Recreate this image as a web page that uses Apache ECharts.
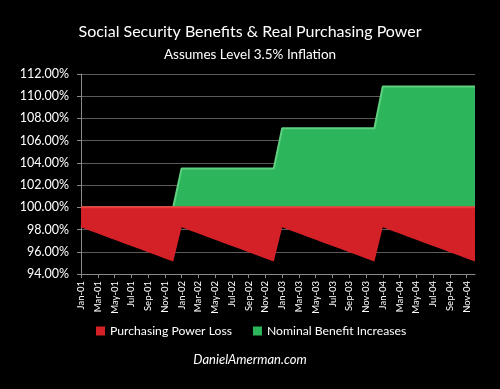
<!DOCTYPE html>
<html>
<head>
<meta charset="utf-8">
<script src="https://cdn.jsdelivr.net/npm/echarts@6/dist/echarts.min.js"></script>
<style>
html,body{margin:0;padding:0;background:#000;}
#chart{width:500px;height:389px;}
</style>
</head>
<body>
<div id="chart"></div>
<script>
var months = ['Jan-01','Feb-01','Mar-01','Apr-01','May-01','Jun-01','Jul-01','Aug-01','Sep-01','Oct-01','Nov-01','Dec-01',
  'Jan-02','Feb-02','Mar-02','Apr-02','May-02','Jun-02','Jul-02','Aug-02','Sep-02','Oct-02','Nov-02','Dec-02',
  'Jan-03','Feb-03','Mar-03','Apr-03','May-03','Jun-03','Jul-03','Aug-03','Sep-03','Oct-03','Nov-03','Dec-03',
  'Jan-04','Feb-04','Mar-04','Apr-04','May-04','Jun-04','Jul-04','Aug-04','Sep-04','Oct-04','Nov-04','Dec-04'];

// real purchasing power (%)
var purchasingPower = [98.20,97.92,97.64,97.36,97.08,96.80,96.52,96.24,95.96,95.68,95.40,95.12,
  98.20,97.92,97.64,97.36,97.08,96.80,96.52,96.24,95.96,95.68,95.40,95.12,
  98.20,97.92,97.64,97.36,97.08,96.80,96.52,96.24,95.96,95.68,95.40,95.12,
  98.20,97.92,97.64,97.36,97.08,96.80,96.52,96.24,95.96,95.68,95.40,95.12];

// nominal benefit level (%)
var nominalBenefit = [100,100,100,100,100,100,100,100,100,100,100,100,
  103.5,103.5,103.5,103.5,103.5,103.5,103.5,103.5,103.5,103.5,103.5,103.5,
  107.12,107.12,107.12,107.12,107.12,107.12,107.12,107.12,107.12,107.12,107.12,107.12,
  110.87,110.87,110.87,110.87,110.87,110.87,110.87,110.87,110.87,110.87,110.87,110.87];

var baseline = 100;
var yTicks = {min: 94, max: 112, interval: 2};

var lossBase = purchasingPower;
var lossArea = purchasingPower.map(function(v){ return +(baseline - v).toFixed(4); });
var gainBase = nominalBenefit.map(function(){ return baseline; });
var gainArea = nominalBenefit.map(function(v){ return +(v - baseline).toFixed(4); });

var chart = echarts.init(document.getElementById('chart'));
var font = 'Lato';
chart.setOption({
  backgroundColor: '#000',
  animation: false,
  title: [{
    text: 'Social Security Benefits & Real Purchasing Power',
    left: 'center', top: 19,
    textStyle: {color: '#fff', fontSize: 16, fontWeight: 'normal', fontFamily: font}
  },{
    text: 'Assumes Level 3.5% Inflation',
    left: 'center', top: 43,
    textStyle: {color: '#fff', fontSize: 13.5, fontWeight: 'normal', fontFamily: font}
  }],
  legend: {
    left: 91, top: 320,
    itemWidth: 9, itemHeight: 9, itemGap: 21,
    icon: 'rect',
    textStyle: {color: '#fff', fontSize: 12.2, fontFamily: font, padding: [0,0,0,0]},
    data: ['Purchasing Power Loss', 'Nominal Benefit Increases']
  },
  graphic: [{
    type: 'text', left: 'center', top: 353,
    style: {text: 'DanielAmerman.com', fill: '#fff', font: 'italic 13px Lato'}
  }],
  grid: {left: 81, right: 25, top: 74, bottom: 115},
  xAxis: {
    type: 'category', data: months, boundaryGap: false,
    axisLine: {lineStyle: {color: '#8a8a8a', width: 1}},
    axisTick: {show: true, interval: 1, length: 4, lineStyle: {color: '#8a8a8a'}},
    axisLabel: {interval: 1, rotate: 90, color: '#fff', fontSize: 9.5, fontFamily: font, margin: 7},
    splitLine: {show: false}
  },
  yAxis: {
    type: 'value', min: yTicks.min, max: yTicks.max, interval: yTicks.interval,
    axisLine: {show: true, lineStyle: {color: '#8a8a8a'}},
    axisTick: {show: true, length: 4, lineStyle: {color: '#8a8a8a'}},
    axisLabel: {color: '#fff', fontSize: 12.5, fontFamily: font, margin: 12,
      formatter: function(v){ return v.toFixed(2) + '%'; }},
    splitLine: {lineStyle: {color: '#5a5a5a', width: 1}}
  },
  series: [{
    name: 'lossBase', type: 'line', stack: 'loss', data: lossBase,
    symbol: 'none', lineStyle: {width: 0, opacity: 0}, silent: true
  },{
    name: 'Purchasing Power Loss', type: 'line', stack: 'loss', data: lossArea,
    symbol: 'none', itemStyle: {color: '#d42027'},
    lineStyle: {color: '#f23b3b', width: 2},
    areaStyle: {color: '#d42027', opacity: 1}, z: 3
  },{
    name: 'gainBase', type: 'line', stack: 'gain', data: gainBase,
    symbol: 'none', lineStyle: {width: 0, opacity: 0}, silent: true
  },{
    name: 'Nominal Benefit Increases', type: 'line', stack: 'gain', data: gainArea,
    symbol: 'none', itemStyle: {color: '#2db55c'},
    lineStyle: {color: '#5fcf80', width: 2},
    areaStyle: {color: '#2db55c', opacity: 1}, z: 2
  }]
});
</script>
</body>
</html>
